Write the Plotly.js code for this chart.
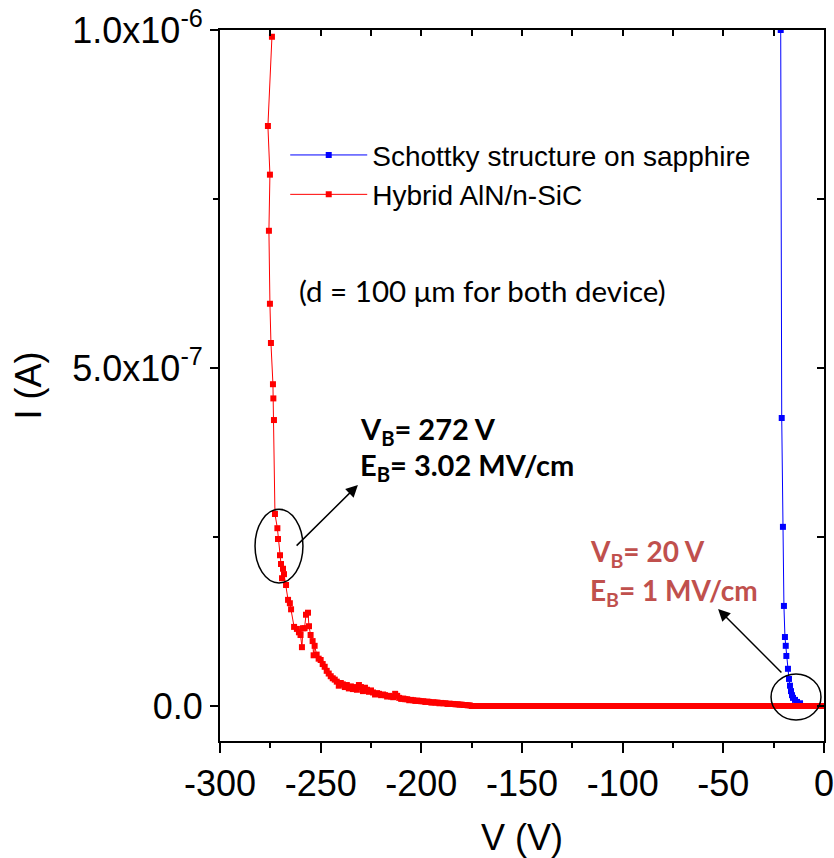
<!DOCTYPE html>
<html>
<head>
<meta charset="utf-8">
<script src="https://cdn.plot.ly/plotly-3.0.1.min.js"></script>
<style>html,body{margin:0;padding:0;background:#fff;}#chart{width:834px;height:858px;}</style>
</head>
<body>
<div id="chart"></div>
<script>
// ---- Data ----
const seriesNames = ['Schottky structure on sapphire', 'Hybrid AlN/n-SiC'];

const sapphireV = [0, -11.9, -13.4, -14.4, -15.4, -15.9, -16.4, -16.9, -17.4, -17.9, -18.7, -19.0, -19.4, -19.9, -20.4, -21.0, -21.5];
const sapphireI = [0, 4e-9, 6e-9, 9e-9, 1.2e-8, 1.6e-8, 2.2e-8, 3.0e-8, 4.0e-8, 5.5e-8, 7.4e-8, 8.9e-8, 1.02e-7, 1.48e-7, 2.65e-7, 4.26e-7, 1.0e-6];

const hybridV = [0, -2.5, -5, -7.5, -10, -12.5, -15, -17.5, -20, -22.5, -25, -27.5, -30, -32.5, -35, -37.5, -40, -42.5, -45, -47.5,
  -50, -52.5, -55, -57.5, -60, -62.5, -65, -67.5, -70, -72.5, -75, -77.5, -80, -82.5, -85, -87.5, -90, -92.5, -95, -97.5,
  -100, -102.5, -105, -107.5, -110, -112.5, -115, -117.5, -120, -122.5, -125, -127.5, -130, -132.5, -135, -137.5, -140, -142.5, -145, -147.5,
  -150, -152.5, -155, -157.5, -160, -162.5, -165, -167.5, -170, -172.5, -175,
  -176, -177, -178, -179, -180, -181, -182, -183, -184, -185, -186, -187, -188, -189, -190, -191, -192, -193, -194, -195,
  -196, -197, -198, -199, -200, -201, -202, -203, -204, -205, -206, -207, -208, -209, -210, -211, -212, -213, -214, -215,
  -216, -217, -218, -219, -220, -221, -222, -223, -224, -225, -226, -227, -228, -229, -230, -231, -232, -233, -234, -235,
  -236, -237, -238, -239, -240, -241, -242, -243, -244, -245, -246, -247, -248, -249, -250, -251, -252, -253, -253.5, -254,
  -255, -255.8, -256.3, -257.3, -258, -258.8, -259.3, -260, -260.8, -261.8, -263.2, -264.7, -265.3, -266.2, -267.2, -268.2, -269.2, -268.7, -269.7, -270.2,
  -271.2, -271.5, -272.7, -273.2, -273.5, -273.7, -274.7, -275.2, -275.7, -275.2, -276.2, -274.2];
const hybridI = [0, 0, 0, 0, 0, 0, 0, 0, 0, 0, 0, 0, 0, 0, 0, 0, 0, 0, 0, 0,
  0, 0, 0, 0, 0, 0, 0, 0, 0, 0, 0, 0, 0, 0, 0, 0, 0, 0, 0, 0,
  0, 0, 0, 0, 0, 0, 0, 0, 0, 0, 0, 0, 0, 0, 0, 0, 0, 0, 0, 0,
  0, 0, 0, 0, 0, 0, 0, 0, 0, 0, 0,
  1e-9, 1e-9, 1.5e-9, 1.5e-9, 2e-9, 2e-9, 2.5e-9, 2.5e-9, 3e-9, 3e-9, 3.5e-9, 3e-9, 4e-9, 4e-9, 4.5e-9, 4e-9, 5e-9, 5e-9, 5.5e-9, 5e-9,
  6e-9, 6.5e-9, 6e-9, 7e-9, 7e-9, 7.5e-9, 8e-9, 7.5e-9, 8.5e-9, 9e-9, 8.5e-9, 1.0e-8, 1.0e-8, 1.1e-8, 1.05e-8, 1.2e-8, 1.5e-8, 1.8e-8, 1.3e-8, 1.4e-8,
  1.5e-8, 1.4e-8, 1.6e-8, 1.7e-8, 1.6e-8, 1.8e-8, 1.9e-8, 1.7e-8, 2.0e-8, 2.3e-8, 2.1e-8, 2.4e-8, 2.7e-8, 2.2e-8, 2.8e-8, 3.1e-8, 2.4e-8, 2.8e-8, 2.5e-8, 2.9e-8,
  2.6e-8, 3.1e-8, 2.8e-8, 3.2e-8, 3.4e-8, 3.0e-8, 3.6e-8, 3.9e-8, 4.1e-8, 4.4e-8, 4.8e-8, 5.2e-8, 5.8e-8, 6.2e-8, 6.8e-8, 7.0e-8, 7.6e-8, 8.9e-8, 7.5e-8, 9.6e-8,
  1.05e-7, 1.18e-7, 1.38e-7, 1.35e-7, 1.15e-7, 1.15e-7, 8.7e-8, 1.05e-7, 1.09e-7, 1.14e-7, 1.17e-7, 1.43e-7, 1.52e-7, 1.57e-7, 1.79e-7, 1.95e-7, 1.89e-7, 2.03e-7, 2.10e-7, 2.23e-7,
  2.47e-7, 2.63e-7, 2.84e-7, 4.23e-7, 4.55e-7, 4.76e-7, 5.37e-7, 5.95e-7, 7.03e-7, 7.86e-7, 8.58e-7, 9.9e-7];

const xTickVals = [-300, -250, -200, -150, -100, -50, 0];
const xTickText = ['-300', '-250', '-200', '-150', '-100', '-50', '0'];
const yTickVals = [0, 5e-7, 1e-6];
const yTickText = ['0.0', '5.0x10<sup>-7</sup>', '1.0x10<sup>-6</sup>'];

// ---- Chart ----
const axisFont = {family: 'Liberation Sans, Arial, sans-serif', size: 36, color: '#000'};
const noteFont = 'Lato, Carlito, sans-serif';

const traces = [
  {x: sapphireV, y: sapphireI, name: seriesNames[0], type: 'scatter', mode: 'lines+markers',
   line: {color: '#0000ff', width: 1}, marker: {symbol: 'square', size: 6, color: '#0000ff'}},
  {x: hybridV, y: hybridI, name: seriesNames[1], type: 'scatter', mode: 'lines+markers',
   line: {color: '#ff0000', width: 1}, marker: {symbol: 'square', size: 6, color: '#ff0000'}},
  {x: [], y: [], xaxis: 'x2', yaxis: 'y2', showlegend: false, hoverinfo: 'skip'}
];

const xr = [-300, 0];
const yr = [-5.18e-8, 1e-6];

const layout = {
  width: 834, height: 858,
  margin: {l: 220, r: 10, t: 30, b: 117},
  paper_bgcolor: '#fff', plot_bgcolor: '#fff',
  font: {family: 'Liberation Sans, Arial, sans-serif', color: '#000'},
  showlegend: true,
  legend: {x: 0.108, y: 0.859, xanchor: 'left', yanchor: 'top', bgcolor: 'rgba(0,0,0,0)',
           font: {family: 'Liberation Sans, Arial, sans-serif', size: 28, color: '#000'},
           itemwidth: 77, tracegroupgap: 0},
  xaxis: {range: xr, tickmode: 'array', tickvals: xTickVals, ticktext: xTickText,
          ticks: 'outside', ticklen: 10, tickwidth: 2, tickcolor: '#000', ticklabeloverflow: 'allow',
          minor: {tickvals: [-275, -225, -175, -125, -75, -25], ticks: 'outside', ticklen: 5, tickwidth: 2, tickcolor: '#000', showgrid: false},
          showline: true, mirror: true, linewidth: 2, linecolor: '#000', showgrid: false, zeroline: false,
          tickfont: axisFont,
          title: {text: 'V (V)', font: axisFont, standoff: 30}},
  yaxis: {range: yr, tickmode: 'array', tickvals: yTickVals, ticktext: yTickText,
          ticks: 'outside', ticklen: 8, tickwidth: 2, tickcolor: '#000', ticklabeloverflow: 'allow',
          minor: {tickvals: [2.5e-7, 7.5e-7], ticks: 'outside', ticklen: 5, tickwidth: 2, tickcolor: '#000', showgrid: false},
          showline: true, mirror: true, linewidth: 2, linecolor: '#000', showgrid: false, zeroline: false,
          tickfont: axisFont,
          title: {text: 'I (A)', font: axisFont, standoff: 20}},
  xaxis2: {overlaying: 'x', side: 'top', anchor: 'y2', range: xr, tickmode: 'array',
           tickvals: [-300, -275, -250, -225, -200, -175, -150, -125, -100, -75, -50, -25, 0],
           ticks: 'inside', ticklen: 6, tickwidth: 2, tickcolor: '#000', showticklabels: false,
           showline: true, linewidth: 2, linecolor: '#000', showgrid: false, zeroline: false},
  yaxis2: {overlaying: 'y', side: 'right', anchor: 'x2', range: yr, tickmode: 'array',
           tickvals: [0, 2.5e-7, 5e-7, 7.5e-7, 1e-6],
           ticks: 'inside', ticklen: 7, tickwidth: 2, tickcolor: '#000', showticklabels: false,
           showline: true, linewidth: 2, linecolor: '#000', showgrid: false, zeroline: false},
  shapes: [
    {type: 'circle', xref: 'x', yref: 'y', x0: -282.6, x1: -258.8, y0: 1.82e-7, y1: 2.91e-7,
     line: {color: '#000', width: 1.5}},
    {type: 'circle', xref: 'x', yref: 'y', x0: -26.3, x1: -1.5, y0: -2.07e-8, y1: 4.73e-8,
     line: {color: '#000', width: 1.5}}
  ],
  annotations: [
    {x: -231.5, y: 3.27e-7, ax: -262.7, ay: 2.35e-7, xref: 'x', yref: 'y', axref: 'x', ayref: 'y',
     text: '', showarrow: true, arrowhead: 2, arrowsize: 1.6, arrowwidth: 1.5, arrowcolor: '#000', standoff: 0},
    {x: -52.6, y: 1.435e-7, ax: -20.4, ay: 4.73e-8, xref: 'x', yref: 'y', axref: 'x', ayref: 'y',
     text: '', showarrow: true, arrowhead: 2, arrowsize: 1.6, arrowwidth: 1.5, arrowcolor: '#000', standoff: 0},
    {x: -261.8, y: 6.15e-7, xref: 'x', yref: 'y', xanchor: 'left', yanchor: 'middle', showarrow: false,
     text: '(d = 100 \u03bcm for both device)', font: {family: noteFont, size: 29.5, color: '#000'}},
    {x: -231.5, y: 4.08e-7, xref: 'x', yref: 'y', xanchor: 'left', yanchor: 'middle', showarrow: false,
     text: '<b>V<sub>B</sub>= 272 V</b>', font: {family: noteFont, size: 29, color: '#000'}},
    {x: -231.5, y: 3.54e-7, xref: 'x', yref: 'y', xanchor: 'left', yanchor: 'middle', showarrow: false,
     text: '<b>E<sub>B</sub>= 3.02 MV/cm</b>', font: {family: noteFont, size: 29, color: '#000'}},
    {x: -117.2, y: 2.26e-7, xref: 'x', yref: 'y', xanchor: 'left', yanchor: 'middle', showarrow: false,
     text: '<b>V<sub>B</sub>= 20 V</b>', font: {family: noteFont, size: 28, color: '#c0504d'}},
    {x: -117.2, y: 1.69e-7, xref: 'x', yref: 'y', xanchor: 'left', yanchor: 'middle', showarrow: false,
     text: '<b>E<sub>B</sub>= 1 MV/cm</b>', font: {family: noteFont, size: 28, color: '#c0504d'}}
  ]
};

Plotly.newPlot('chart', traces, layout, {displayModeBar: false, staticPlot: true});
</script>
</body>
</html>
